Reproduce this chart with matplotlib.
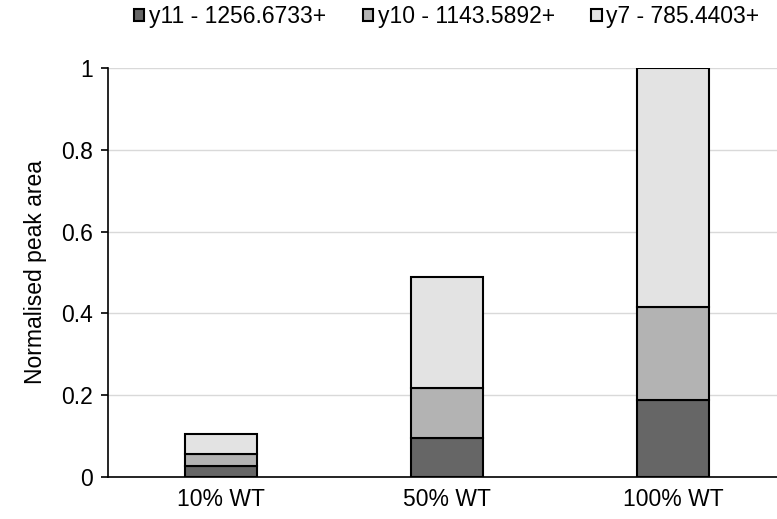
import matplotlib.pyplot as plt
import numpy as np

plt.rcParams['font.family'] = ['Liberation Sans', 'DejaVu Sans']

categories = ['10% WT', '50% WT', '100% WT']
y11 = [0.027, 0.095, 0.188]
y10 = [0.029, 0.123, 0.228]
y7 = [0.050, 0.271, 0.584]
labels = ['y11 - 1256.6733+', 'y10 - 1143.5892+', 'y7 - 785.4403+']
colors = ['#666666', '#b3b3b3', '#e3e3e3']

fig = plt.figure(figsize=(7.77, 5.19), dpi=100)
ax = fig.add_axes([0.139, 0.081, 0.861, 0.788])

x = np.arange(len(categories))
bottom = np.zeros(len(categories))
for vals, lab, col in zip([y11, y10, y7], labels, colors):
    ax.bar(x, vals, width=0.32, bottom=bottom, color=col, edgecolor='black',
           linewidth=1.5, label=lab, zorder=3)
    bottom += np.array(vals)

ax.set_xlim(-0.5, 2.46)
ax.set_ylim(0, 1)
ax.set_yticks([0, 0.2, 0.4, 0.6, 0.8, 1])
ax.set_yticklabels(['0', '0.2', '0.4', '0.6', '0.8', '1'])
ax.set_xticks(x)
ax.set_xticklabels(categories)
ax.tick_params(axis='x', length=0, labelsize=16.5, pad=8)
ax.tick_params(axis='y', length=5, width=1.2, labelsize=16.5, pad=6)
ax.yaxis.grid(True, color='#d9d9d9', linewidth=1, zorder=0)
ax.set_axisbelow(True)
for s in ['top', 'right']:
    ax.spines[s].set_visible(False)
ax.spines['left'].set_linewidth(1.2)
ax.spines['bottom'].set_linewidth(1.2)
ax.set_ylabel('Normalised peak area', fontsize=16.5, labelpad=10)

fig.legend(loc='upper center', bbox_to_anchor=(0.575, 1.03), ncol=3, frameon=False,
           fontsize=16.5, handlelength=0.45, handleheight=0.45, handletextpad=0.2,
           columnspacing=1.6)

fig.savefig('out.png', dpi=100)
